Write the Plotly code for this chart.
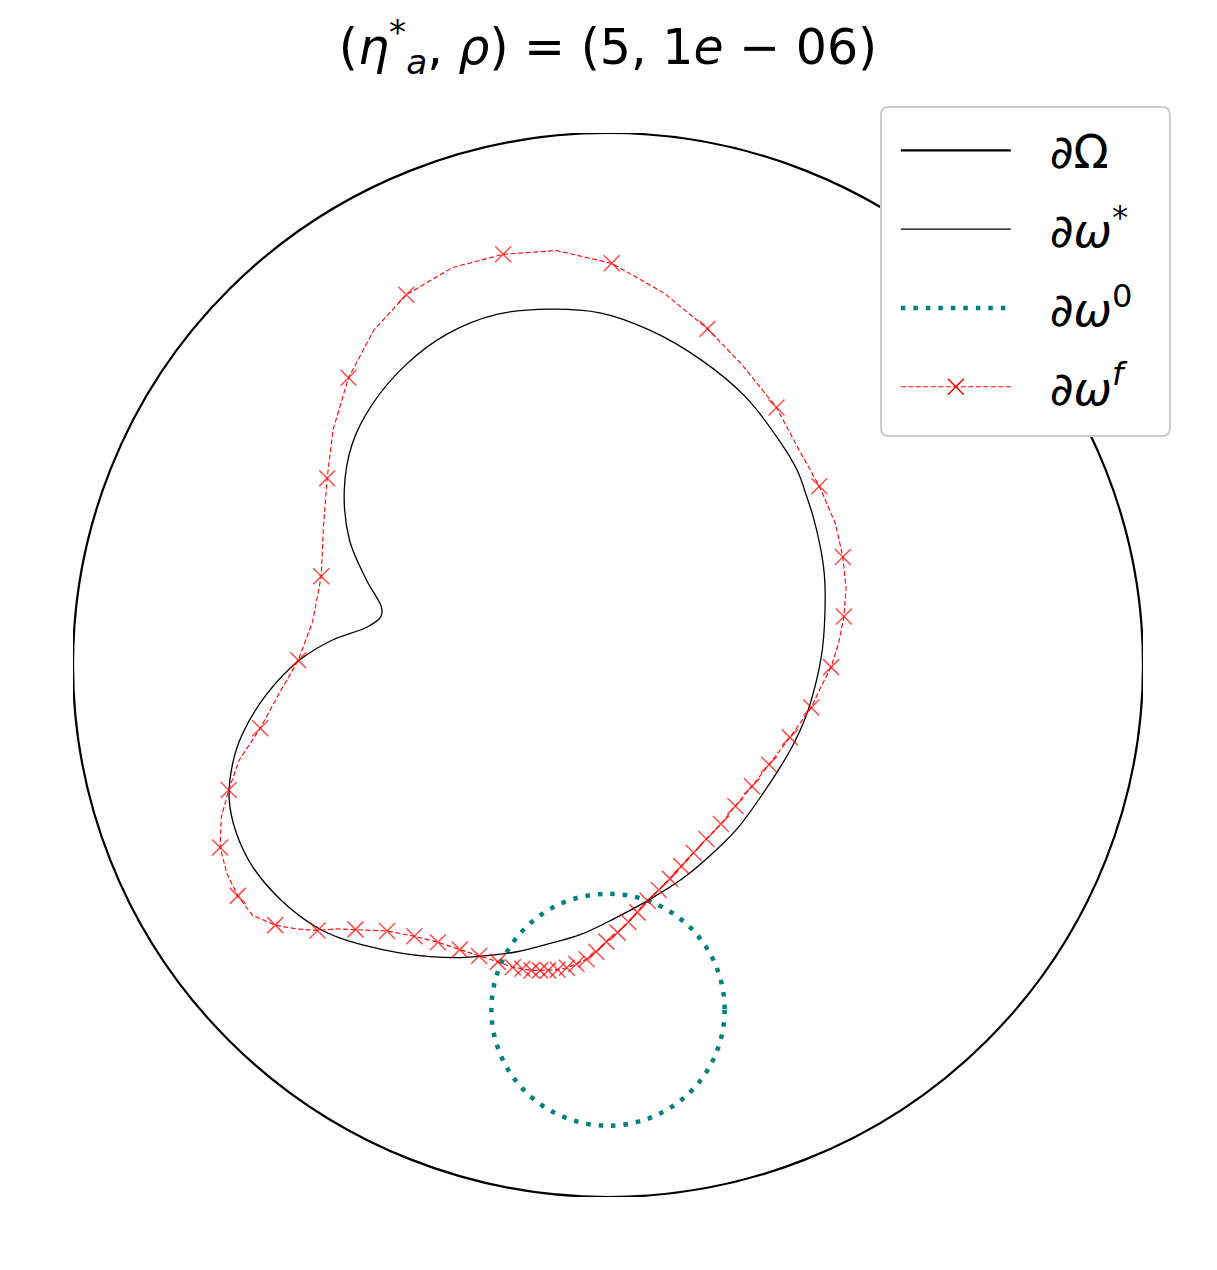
import plotly.graph_objects as go

# ---------------- data ----------------
title_text = "(<i>η</i><sup>*</sup><sub><i>a</i></sub>, <i>ρ</i>) = (5, 1<i>e</i> − 06)"
PAD = "\u00a0\u00a0\u200a"
legend_labels = [PAD + "∂Ω", PAD + "∂<i>ω</i><sup>*</sup>", PAD + "∂<i>ω</i><sup>0</sup>",
                 PAD + "∂<i>ω</i><sup><i>f</i></sup>"]

# outer domain boundary (circle)
Omega_center = (0.0, 0.0)
Omega_radius = 1.0

# initial inclusion boundary (circle)
omega0_center = (0.0, -0.648)
omega0_radius = 0.218

# target shape  ∂ω*
omega_star_x = [-0.109, -0.015, 0.079, 0.172, 0.257, 0.324, 0.354, 0.371, 0.384, 0.397,
                0.404, 0.406, 0.401,
                0.388, 0.369, 0.339, 0.292, 0.242, 0.191, 0.140, 0.079, 0.009, -0.052,
                -0.118, -0.170, -0.221, -0.277, -0.333, -0.390, -0.459, -0.502, -0.543, -0.609,
                -0.665, -0.695, -0.708, -0.702, -0.684, -0.639, -0.577, -0.515, -0.451, -0.425,
                -0.423, -0.451, -0.483, -0.493, -0.478, -0.440, -0.376, -0.301, -0.208]
omega_star_y = [0.669, 0.662, 0.629, 0.575, 0.504, 0.416, 0.365, 0.318, 0.277, 0.221,
                0.174, 0.127, 0.032,
                -0.036, -0.099, -0.163, -0.238, -0.307, -0.358, -0.401, -0.440, -0.478, -0.507,
                -0.526, -0.539, -0.546, -0.550, -0.548, -0.541, -0.526, -0.513, -0.494, -0.444,
                -0.378, -0.315, -0.253, -0.187, -0.131, -0.056, 0.009, 0.047, 0.071, 0.090,
                0.107, 0.159, 0.234, 0.328, 0.416, 0.491, 0.566, 0.622, 0.659]

# final reconstructed shape ∂ω^f (polygon vertices, 1 = vertex carries a marker)
omega_f_x = [-0.196, -0.096, 0.007, 0.105, 0.186, 0.250, 0.315, 0.354, 0.395, 0.425,
             0.439, 0.445, 0.441, 0.431, 0.417, 0.397, 0.380, 0.340, 0.301, 0.269,
             0.238, 0.211, 0.184, 0.160, 0.137, 0.116, 0.095, 0.074, 0.055, 0.038,
             0.018, -0.003, -0.022, -0.040, -0.059, -0.077, -0.094, -0.112, -0.127, -0.143,
             -0.160, -0.178, -0.206, -0.241, -0.277, -0.318, -0.362, -0.413, -0.472, -0.508,
             -0.543, -0.583, -0.622, -0.665, -0.692, -0.712, -0.725, -0.723, -0.709, -0.689,
             -0.650, -0.614, -0.579, -0.552, -0.536, -0.532, -0.525, -0.514, -0.485, -0.438,
             -0.377, -0.291]
omega_f_y = [0.772, 0.779, 0.755, 0.699, 0.632, 0.565, 0.484, 0.410, 0.336, 0.266,
             0.203, 0.144, 0.091, 0.041, -0.004, -0.043, -0.080, -0.136, -0.187, -0.228,
             -0.265, -0.299, -0.327, -0.353, -0.378, -0.402, -0.423, -0.443, -0.465, -0.483,
             -0.503, -0.520, -0.539, -0.553, -0.562, -0.569, -0.573, -0.574, -0.574, -0.574,
             -0.571, -0.568, -0.558, -0.547, -0.535, -0.521, -0.510, -0.500, -0.497, -0.496,
             -0.499, -0.496, -0.489, -0.470, -0.434, -0.393, -0.343, -0.287, -0.235, -0.178,
             -0.119, -0.052, 0.009, 0.082, 0.167, 0.258, 0.351, 0.442, 0.540, 0.629,
             0.696, 0.747]
omega_f_marked = [1, 0, 1, 0, 1, 0, 1, 0, 1, 0,
                  1, 0, 1, 0, 1, 0, 1, 1, 1, 1,
                  1, 1, 1, 1, 1, 1, 1, 1, 1, 1,
                  1, 1, 1, 1, 1, 1, 1, 1, 1, 1,
                  1, 1, 1, 1, 1, 1, 1, 1, 1, 0,
                  1, 0, 1, 0, 1, 0, 1, 0, 1, 0,
                  1, 0, 1, 0, 1, 0, 1, 0, 1, 0,
                  1, 0]

# ---------------- styles ----------------
FONT = "DejaVu Sans"
RED = "#ff0000"
TEAL = "#008080"
MARK_SIZE = 16

fig = go.Figure()

fig.add_shape(type="circle", xref="x", yref="y",
              x0=Omega_center[0] - Omega_radius, x1=Omega_center[0] + Omega_radius,
              y0=Omega_center[1] - Omega_radius, y1=Omega_center[1] + Omega_radius,
              line=dict(color="black", width=2.2), layer="below")
fig.add_shape(type="circle", xref="x", yref="y",
              x0=omega0_center[0] - omega0_radius, x1=omega0_center[0] + omega0_radius,
              y0=omega0_center[1] - omega0_radius, y1=omega0_center[1] + omega0_radius,
              line=dict(color=TEAL, width=4.5, dash="4.5px,8px"), layer="below")

fig.add_trace(go.Scatter(x=[None], y=[None], mode="lines", name=legend_labels[0],
                         line=dict(color="black", width=2.2), legendgroup="a"))

fig.add_trace(go.Scatter(x=omega_star_x + omega_star_x[:1], y=omega_star_y + omega_star_y[:1],
                         mode="lines", name=legend_labels[1], legendgroup="b",
                         line=dict(color="black", width=1.3, shape="spline", smoothing=1.0)))

fig.add_trace(go.Scatter(x=[None], y=[None], mode="lines", name=legend_labels[2],
                         line=dict(color=TEAL, width=4.5, dash="4.5px,8px"), legendgroup="c"))

sizes = [MARK_SIZE if m else 0 for m in omega_f_marked]
fig.add_trace(go.Scatter(x=omega_f_x + omega_f_x[:1], y=omega_f_y + omega_f_y[:1],
                         mode="lines+markers", showlegend=False, legendgroup="d",
                         line=dict(color=RED, width=1.1, dash="5px,2.5px"),
                         marker=dict(symbol="x-thin", size=sizes + [0],
                                     line=dict(color=RED, width=1.5), color=RED)))
fig.add_trace(go.Scatter(x=[None], y=[None], mode="lines+markers", name=legend_labels[3],
                         legendgroup="d",
                         line=dict(color=RED, width=1.1, dash="5px,2.5px"),
                         marker=dict(symbol="x-thin", size=MARK_SIZE,
                                     line=dict(color=RED, width=1.5), color=RED)))

# rounded legend frame
x0, x1, y0, y1 = 0.7551, 1.0252, 0.7152, 1.0244
rx, ry = 0.0075, 0.0075
frame = (f"M {x0+rx},{y1} L {x1-rx},{y1} Q {x1},{y1} {x1},{y1-ry} L {x1},{y0+ry} "
         f"Q {x1},{y0} {x1-rx},{y0} L {x0+rx},{y0} Q {x0},{y0} {x0},{y0+ry} "
         f"L {x0},{y1-ry} Q {x0},{y1} {x0+rx},{y1} Z")
fig.add_shape(type="path", xref="paper", yref="paper", path=frame,
              fillcolor="white", line=dict(color="#cccccc", width=2), layer="above")

fig.update_layout(
    width=1209, height=1262,
    margin=dict(l=65, r=74, t=125, b=73),
    paper_bgcolor="white", plot_bgcolor="white",
    font=dict(family=FONT, color="black"),
    title=dict(text=title_text, x=(608 - 8) / 1209, xanchor="center", y=1 - 39 / 1262,
               yanchor="middle", yref="container", font=dict(size=49, family=FONT)),
    xaxis=dict(range=[-1, 1], visible=False, showgrid=False, zeroline=False),
    yaxis=dict(range=[-1, 1], visible=False, showgrid=False, zeroline=False),
    showlegend=True,
    legend=dict(x=0.769, y=1.0179, xanchor="left", yanchor="top",
                bgcolor="rgba(0,0,0,0)", borderwidth=0,
                font=dict(size=46, family=FONT), itemwidth=110,
                tracegroupgap=16, traceorder="grouped"),
)

fig.write_html("out.html")
